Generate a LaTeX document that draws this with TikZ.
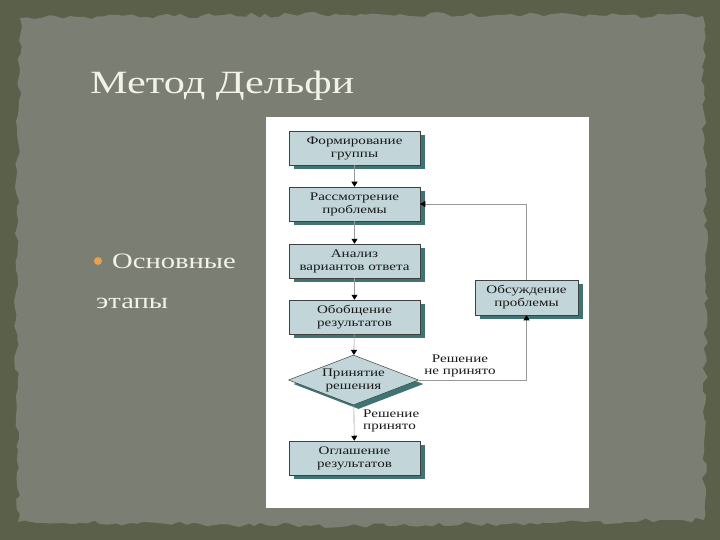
\documentclass[tikz,border=0pt]{standalone}
\usepackage{fontspec}
\setmainfont{Liberation Serif}
\newfontfamily\diagfont[FakeStretch=1.3]{Liberation Serif}
\newfontfamily\slidefont[FakeStretch=1.3]{Liberation Serif}
\usetikzlibrary{shapes.geometric,shadows,arrows.meta,decorations.pathmorphing}
\definecolor{outerbg}{HTML}{5A6049}
\definecolor{paper}{HTML}{7B7E72}
\definecolor{boxfill}{HTML}{C2D6DA}
\definecolor{boxshadow}{HTML}{3E7474}
\definecolor{bulletc}{HTML}{E8A050}
\definecolor{titlec}{HTML}{F2F2EA}
\tikzset{
  stepbox/.style={draw=black!75, line width=0.5pt, fill=boxfill, minimum width=131pt, minimum height=34pt,
    inner sep=0pt, align=center, font=\diagfont\fontsize{11.6}{13}\selectfont, text=black!90,
    drop shadow={shadow xshift=5pt, shadow yshift=-4pt, fill=boxshadow, opacity=1}},
  decbox/.style={stepbox, shape=diamond, minimum width=130pt, minimum height=50pt, shape aspect=2.6},
  flow/.style={draw=black!40, line width=0.6pt, -{Triangle[length=5pt,width=6pt,color=black]}},
  lbl/.style={font=\diagfont\fontsize{11.6}{12.5}\selectfont, text=black!90, inner sep=0pt},
}
\begin{document}
\begin{tikzpicture}[x=1pt,y=-1pt]
\useasboundingbox (0,0) rectangle (720,540);
\fill[outerbg] (0,0) rectangle (720,540);
\pgfmathsetseed{7}
\fill[paper, decorate, decoration={random steps, segment length=7pt, amplitude=2.5pt}]
  (20,18) -- (360,14) -- (703,16) -- (706,270) -- (704,520) -- (360,526) -- (18,522) -- (16,270) -- cycle;
% title and bullets
\node[anchor=base west, inner sep=0pt, text=titlec, font=\slidefont\fontsize{32.5}{36}\selectfont] (title) at (90,94) {Метод Дельфи};
\fill[bulletc] (98,261) circle (4pt);
\node[anchor=base west, inner sep=0pt, text=titlec, font=\slidefont\fontsize{22}{26}\selectfont] (b1) at (112,268) {Основные};
\node[anchor=base west, inner sep=0pt, text=titlec, font=\slidefont\fontsize{22}{26}\selectfont] (b2) at (96,308) {этапы};
% panel
\fill[white] (266,117) rectangle (589,508);
% diagram
\node[stepbox] (s1) at (354.5,148) {Формирование\\группы};
\node[stepbox] (s2) at (354.5,204) {Рассмотрение\\проблемы};
\node[stepbox] (s3) at (354.5,261) {Анализ\\вариантов ответа};
\node[stepbox] (s4) at (354.5,317) {Обобщение\\результатов};
\node[decbox] (d) at (353.5,380) {Принятие\\решения};
\node[stepbox] (s6) at (354.5,458) {Оглашение\\результатов};
\node[stepbox, minimum width=103pt, minimum height=35pt] (disc) at (526.5,297.5) {Обсуждение\\проблемы};
\draw[flow] (s1) -- (s2);
\draw[flow] (s2) -- (s3);
\draw[flow] (s3) -- (s4);
\draw[flow] (s4) -- (d);
\draw[flow] (d) -- (s6);
\draw[flow] (d.east) -| (disc.south);
\draw[flow] (disc.north) |- (s2.east);
\node[lbl, align=center] (no) at (460,366) {Решение\\не принято};
\node[lbl, align=left, anchor=west] (yes) at (363,421) {Решение\\принято};
\end{tikzpicture}
\end{document}
